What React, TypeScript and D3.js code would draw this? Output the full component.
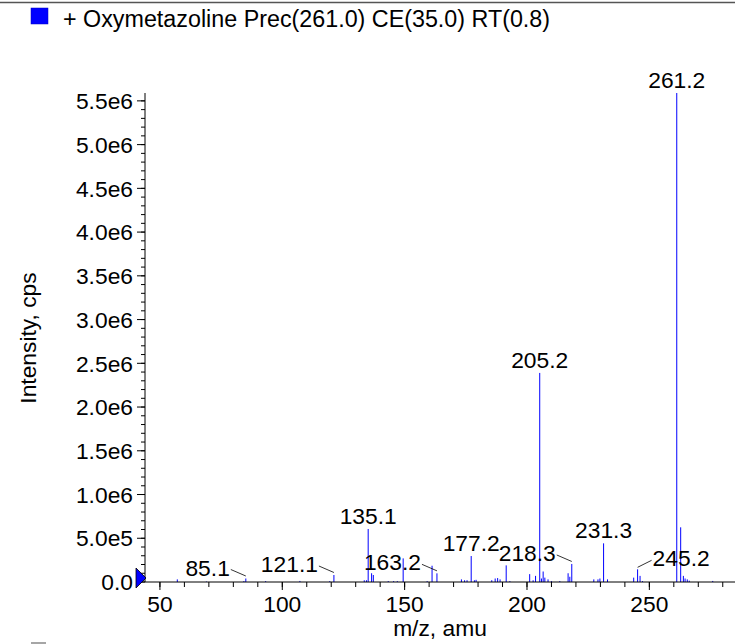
import * as d3 from 'd3';

// spectrum sticks (m/z, intensity in cps)
const mzValues = [
    57.1, 69.0, 84.3, 85.1, 93.2, 107.2, 119.4, 121.1, 133.5, 134.4, 135.1, 136.5, 137.2,
    143.3, 145.5, 147.0, 149.4, 159.2, 161.2, 163.2, 173.2, 174.5, 175.5, 177.2, 178.5,
    179.2, 185.6, 187.0, 188.0, 189.0, 191.5, 193.0, 201.1, 202.5, 203.5, 205.2, 205.9,
    206.6, 207.3, 208.6, 210.0, 213.4, 216.8, 217.5, 218.3, 227.3, 229.0, 229.8, 231.3,
    232.9, 243.6, 245.2, 246.2, 247.2, 261.2, 262.8, 263.9, 264.6, 265.5, 266.3, 275.9
];
const intensities = [
    0.03e6, 0.005e6, 0.01e6, 0.04e6, 0.01e6, 0.012e6, 0.01e6, 0.08e6, 0.02e6, 0.02e6, 0.606e6, 0.10e6, 0.08e6,
    0.01e6, 0.01e6, 0.01e6, 0.27e6, 0.01e6, 0.186e6, 0.099e6, 0.03e6, 0.02e6, 0.02e6, 0.297e6, 0.02e6,
    0.025e6, 0.02e6, 0.04e6, 0.045e6, 0.03e6, 0.19e6, 0.01e6, 0.09e6, 0.02e6, 0.07e6, 2.39e6, 0.04e6,
    0.12e6, 0.05e6, 0.03e6, 0.01e6, 0.01e6, 0.10e6, 0.06e6, 0.206e6, 0.03e6, 0.03e6, 0.04e6, 0.442e6,
    0.03e6, 0.05e6, 0.145e6, 0.07e6, 0.01e6, 5.59e6, 0.625e6, 0.07e6, 0.04e6, 0.03e6, 0.015e6, 0.012e6
];

// annotated peaks
const labelMz = [85.1, 121.1, 135.1, 163.2, 177.2, 205.2, 218.3, 231.3, 245.2, 261.2];
const labelText = ["85.1", "121.1", "135.1", "163.2", "177.2", "205.2", "218.3", "231.3", "245.2", "261.2"];

// axes
const yTickValues = [0, 0.5e6, 1.0e6, 1.5e6, 2.0e6, 2.5e6, 3.0e6, 3.5e6, 4.0e6, 4.5e6, 5.0e6, 5.5e6];
const yTickLabels = ["0.0", "5.0e5", "1.0e6", "1.5e6", "2.0e6", "2.5e6", "3.0e6", "3.5e6", "4.0e6", "4.5e6", "5.0e6", "5.5e6"];
const xTickValues = [50, 100, 150, 200, 250];
const xTickLabels = ["50", "100", "150", "200", "250"];

const title = "+ Oxymetazoline Prec(261.0) CE(35.0) RT(0.8)";
const xTitle = "m/z, amu";
const yTitle = "Intensity, cps";

const W = 735, H = 644;
const font = "'Liberation Sans', Arial, Helvetica, sans-serif";
const fs = 22.8;

// which labels are pushed aside with a leader line
const leaders: Record<string, 'left' | 'right'> = {
    "85.1": 'left', "121.1": 'left', "163.2": 'left', "218.3": 'left', "245.2": 'right'
};

export default function App() {
    const left = 145, right = 735, top = 93, bottom = 582;
    const x = d3.scaleLinear().domain([43.9, 285]).range([left, right]);
    const y = d3.scaleLinear().domain([0, 5.59e6]).range([bottom, top]);

    const yMinor = d3.range(0, 5.59e6, 1e5);
    const xMinor = d3.range(50, 285, 10);

    const peaks = mzValues.map((m, i) => ({ m, v: intensities[i] }));

    return (
        <svg width={W} height={H} style={{ position: 'absolute', left: 0, top: 0, background: '#fff' }}
            fontFamily={font} fontSize={fs}>
            {/* top frame line */}
            <line x1={0} x2={W} y1={2.5} y2={2.5} stroke="#555" strokeWidth={1.5} />

            {/* legend */}
            <rect x={31} y={8} width={17} height={16} fill="#0000ff" stroke="#0000c0" strokeWidth={0.5} />
            <text x={63} y={27} fill="#000" fontSize={23.3}>{title}</text>

            {/* next panel legend, cut at the bottom */}
            <rect x={31} y={642} width={15} height={10} fill="#a6a6a6" />

            {/* sticks */}
            <g stroke="#0000ff" strokeWidth={1}>
                {peaks.map((p, i) => (
                    <line key={i} x1={x(p.m)} x2={x(p.m)} y1={bottom} y2={y(p.v)} />
                ))}
            </g>

            {/* peak labels */}
            {labelMz.map((m, i) => {
                const idx = mzValues.indexOf(m);
                const px = x(m), py = y(intensities[idx]);
                const side = leaders[labelText[i]];
                if (side === 'left') {
                    return (
                        <g key={i}>
                            <line x1={px} y1={py - 2.5} x2={px - 15} y2={py - 9} stroke="#000" strokeWidth={0.8} />
                            <text x={px - 16} y={py - 3} textAnchor="end">{labelText[i]}</text>
                        </g>
                    );
                }
                if (side === 'right') {
                    return (
                        <g key={i}>
                            <line x1={px} y1={py - 2} x2={px + 14} y2={py - 9} stroke="#000" strokeWidth={0.8} />
                            <text x={px + 15} y={py - 3}>{labelText[i]}</text>
                        </g>
                    );
                }
                return <text key={i} x={px} y={py - 5} textAnchor="middle">{labelText[i]}</text>;
            })}

            {/* y axis */}
            <line x1={left} x2={left} y1={top} y2={bottom} stroke="#000" />
            {yMinor.map((v, i) => (
                <line key={'ym' + i} x1={left - 4} x2={left} y1={y(v)} y2={y(v)} stroke="#000" />
            ))}
            {yTickValues.map((v, i) => (
                <g key={'yt' + i}>
                    <line x1={left - 8} x2={left} y1={y(v)} y2={y(v)} stroke="#000" />
                    <text x={133} y={y(v)} dy="0.36em" textAnchor="end">{yTickLabels[i]}</text>
                </g>
            ))}

            {/* x axis */}
            <line x1={left} x2={right} y1={bottom} y2={bottom} stroke="#000" />
            {xMinor.map((v, i) => (
                <line key={'xm' + i} x1={x(v)} x2={x(v)} y1={bottom} y2={bottom + 5} stroke="#000" />
            ))}
            {xTickValues.map((v, i) => (
                <g key={'xt' + i}>
                    <line x1={x(v)} x2={x(v)} y1={bottom} y2={bottom + 8} stroke="#000" />
                    <text x={x(v)} y={612} textAnchor="middle">{xTickLabels[i]}</text>
                </g>
            ))}

            {/* zero marker */}
            <path d={`M136,${y(0) - 14}L146,${y(0) - 4}L136,${y(0) + 6}Z`} fill="#0000ff" stroke="#000" strokeWidth={0.8} />

            {/* axis titles */}
            <text x={(left + right) / 2} y={636} textAnchor="middle">{xTitle}</text>
            <text transform={`translate(36,338) rotate(-90)`} textAnchor="middle">{yTitle}</text>
        </svg>
    );
}
